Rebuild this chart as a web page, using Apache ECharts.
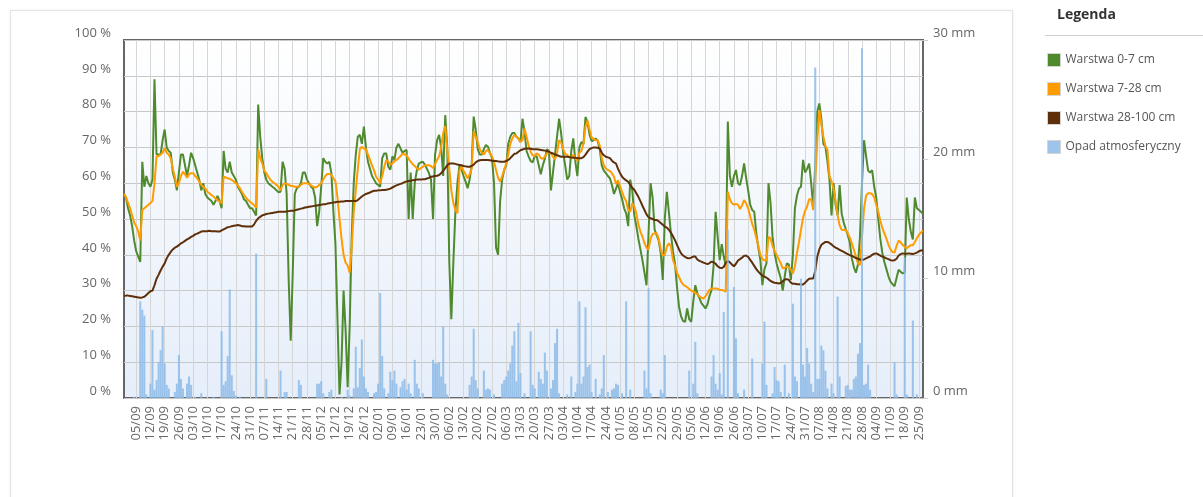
<!DOCTYPE html>
<html>
<head>
<meta charset="utf-8">
<title>Wilgotność gleby i opad</title>
<script src="https://cdn.jsdelivr.net/npm/echarts@6/dist/echarts.min.js"></script>
<style>
  html, body { margin: 0; padding: 0; background: #ffffff; }
  #chart { width: 1203px; height: 497px; }
</style>
</head>
<body>
<div id="chart"></div>
<script>
// Daily series, 30/08 .. 27/09 of the following year (394 days)
const startDate = Date.UTC(2022, 7, 30);
const dayCount = 394;

// Soil moisture, layer 0-7 cm [%]
const layer0_7 = [
  57, 56, 53, 51, 48, 44, 41, 39.5, 38, 66,
  59, 62, 60, 59, 61, 89, 68, 68, 68, 72,
  75, 70, 69, 68.5, 63, 61, 58, 63, 68, 68,
  65, 62, 65, 68.5, 67, 65, 63, 61, 58, 60,
  57, 56, 55.5, 55, 54, 55, 56.5, 55, 53, 69,
  64, 63, 66, 63, 62, 61, 59, 58, 57, 55.5,
  55, 54, 53, 53, 52, 51, 82, 73, 67, 63,
  61, 60, 59.5, 59, 58.6, 58, 57.5, 57.6, 66, 64,
  57, 33, 16, 35, 57, 58.6, 59, 60, 63, 63,
  61, 60, 59, 58.5, 56, 48, 52, 59, 67, 66,
  65.5, 66, 62.8, 52, 43, 22, 1, 10, 30, 19,
  3, 20, 45, 60, 68, 73, 73.5, 71, 75.8, 70,
  66, 64, 62, 61, 60, 59.5, 59, 67, 68.3, 68.3,
  64.6, 63.8, 67.5, 66.5, 70, 71, 69.7, 68.5, 69, 69.3,
  50, 63, 50, 60, 63.5, 65.5, 65.8, 66, 65.2, 64,
  62.8, 61, 50, 68, 72, 73.5, 70, 62, 79, 70,
  38, 22, 38, 52, 60, 65, 64, 62, 60.5, 58.6,
  61, 65, 78.6, 75, 69.5, 68, 68, 69.5, 70.7, 70.2,
  68.5, 67, 60, 42, 40, 55, 61, 63.7, 65, 71,
  73, 74, 74, 73, 72.5, 71.5, 78, 74.5, 69, 67.5,
  66.2, 65.8, 67.5, 67.5, 65, 62.5, 65, 66.8, 69.5, 69,
  58, 63, 68, 73, 78, 74, 68.5, 65, 61, 62,
  69, 72.5, 66, 62, 70, 71.5, 71, 78.5, 77, 73.5,
  71.8, 72, 72.5, 71.8, 69.5, 65, 63.5, 62.8, 62, 61.4,
  59.5, 57, 58.5, 60, 57.5, 55.5, 53, 51.6, 48, 61,
  58, 51, 48, 44.5, 41.5, 38.5, 35, 31.5, 46, 60,
  56, 47, 45.5, 44, 40.5, 33, 50, 57.6, 52, 46,
  41, 37.6, 31, 25.5, 22.8, 21.5, 21.3, 25, 22, 21.3,
  27, 31.5, 29.2, 28, 26.5, 25.8, 25, 26.2, 28.5, 30.2,
  37, 52, 45, 38.5, 43, 39.5, 37, 77.2, 62, 59,
  62, 63.7, 60, 59.5, 62, 65.5, 61.5, 58, 54, 52.5,
  52, 46, 42, 38.5, 31.5, 36, 37.6, 60, 54.5, 45,
  40.5, 37.6, 35.5, 33.5, 30, 34, 37.6, 37.3, 33, 40,
  53, 56.5, 58.5, 59, 66.5, 63, 64, 65.5, 60, 53.5,
  65, 80, 82.3, 78, 71, 70.2, 66, 61, 51, 60,
  54, 51, 59.5, 51.5, 49, 47.2, 45.5, 43.5, 39, 36.5,
  35, 37.3, 45, 60, 72, 67.6, 63.5, 63, 63.6, 59,
  56, 50, 44.5, 40.5, 38, 36, 34, 32.5, 31.8, 31.2,
  33.5, 35.8, 35.3, 34.8, 35, 56, 50, 46.5, 44.3, 56,
  53, 52.5, 52, 51.5
];

// Soil moisture, layer 7-28 cm [%]
const layer7_28 = [
  57, 56, 54.5, 53, 51, 49, 48, 46.5, 44, 52.5,
  53, 53.5, 54, 54.5, 55, 60, 67.5, 67.5, 68, 68.5,
  69.8, 68.5, 68, 67, 64, 61.8, 59, 60, 62, 63.2,
  62.5, 61.5, 62.5, 62.8, 62.8, 62, 61.4, 60.5, 59.5, 59,
  58.5, 57.6, 57.2, 56.7, 56.3, 55.8, 55.3, 54.8, 54.4, 61.8,
  61.6, 61.4, 61.2, 60.9, 60.5, 60, 59.3, 58.6, 57.6, 56.7,
  56, 55.3, 54.8, 54.4, 53.8, 53.2, 69.5, 67, 65.5, 63.5,
  62.8, 61.8, 61, 60.4, 60, 59.5, 59, 58, 59.5, 60,
  59.8, 59.5, 59.3, 59.2, 59, 59, 59, 59.5, 60, 60,
  60, 59.8, 59.4, 59, 58.8, 59, 59.5, 60, 61, 62,
  62.6, 62.6, 62.3, 61.4, 60.5, 56, 50, 44.5, 40, 37.8,
  37, 35, 42, 52, 58, 64, 69.5, 70.2, 69.7, 69.5,
  68, 66.5, 65, 63.5, 61.8, 61, 60, 62, 64.5, 66.5,
  66, 65.2, 65.5, 66.2, 66.5, 67, 67.5, 68.3, 68, 67.8,
  66.8, 66, 65.3, 64.8, 64.2, 63.8, 64.2, 64.6, 65, 65,
  65, 64.8, 64.2, 65.3, 66.5, 67.5, 70, 74, 76, 69.5,
  64, 58, 54.5, 52.5, 51.6, 63.5, 64.6, 63.5, 62.5, 61.4,
  62.5, 64, 74.5, 73, 71.5, 69.5, 68.5, 68, 69, 69.3,
  68.3, 67.5, 66, 63.7, 61.5, 60.4, 62, 63.7, 65.5, 68,
  71, 72.5, 73.5, 73, 72.5, 71.5, 72, 75.3, 73, 70.5,
  68.8, 67.8, 67.6, 68.3, 68, 67, 66.8, 67.4, 68.3, 68.6,
  68.3, 67.4, 66.6, 68.5, 72, 71.5, 69.5, 68.2, 67.9, 67.2,
  67.3, 67.9, 67, 66.2, 68.5, 69, 71, 75.8, 77.5, 75,
  72.8, 72.4, 72, 72, 70.5, 67, 65, 64.1, 63.7, 63.4,
  62.8, 61.8, 59.8, 60.8, 59.2, 57.5, 56, 55, 52.5, 52,
  54.4, 53.5, 51.5, 48.5, 46.5, 45.1, 43.3, 42, 41.5, 44.5,
  45.8, 46, 46, 44.5, 41.5, 39.8, 40, 42.2, 43.2, 42.3,
  38.6, 37, 35, 33.8, 32.5, 31.7, 31.3, 31, 30.4, 30,
  29.7, 29.4, 29, 28.4, 28, 27.8, 28.4, 29.3, 30.2, 30.5,
  30.6, 30.6, 30.5, 30.2, 30.2, 30, 29.7, 57.6, 55.5, 54.4,
  54, 54.2, 54, 52.8, 53.8, 55.3, 54.3, 53, 50.8, 48.6,
  47, 44.8, 42.5, 40, 38.8, 38.5, 38.5, 45, 44.6, 42.5,
  41, 40, 38.8, 37.7, 36.2, 36.4, 36.7, 36.6, 35.8, 34.8,
  36.8, 40.5, 43.5, 47, 50.3, 52.3, 53.5, 55.5, 55.5, 52.5,
  60, 72, 80.4, 76.5, 73, 70.3, 69.4, 62, 60.5, 58.5,
  55, 51, 48.2, 47, 46.9, 46.9, 46, 44.8, 43.2, 41.4,
  39.5, 37.6, 37.2, 45, 53, 56.5, 57.2, 57.2, 57, 56,
  54, 52, 49.5, 47.5, 46, 44.5, 42.8, 41.5, 40.8, 40.6,
  42.5, 44, 43.5, 42.8, 42.2, 41.8, 42.3, 42.7, 42.7, 43.6,
  44.6, 45.6, 46.2, 46.8
];

// Soil moisture, layer 28-100 cm [%]
const layer28_100 = [
  28.5, 28.6, 28.6, 28.5, 28.4, 28.3, 28.2, 28.1, 28, 28.1,
  28.3, 28.8, 29.3, 29.8, 30, 31.5, 33.3, 34.4, 35.6, 36.7,
  37.6, 39, 40, 40.8, 41.5, 42, 42.3, 42.7, 43.2, 43.5,
  43.9, 44.3, 44.6, 45, 45.3, 45.7, 45.9, 46.2, 46.5, 46.6,
  46.6, 46.6, 46.7, 46.6, 46.6, 46.6, 46.5, 46.5, 46.8, 47.1,
  47.4, 47.7, 47.8, 48, 48.1, 48.2, 48.3, 48.2, 48, 48,
  47.9, 47.9, 47.9, 47.9, 48.5, 49.5, 50.2, 50.6, 51, 51.2,
  51.4, 51.5, 51.6, 51.7, 51.8, 51.9, 52, 52, 52, 52,
  52.1, 52.2, 52.3, 52.3, 52.4, 52.6, 52.7, 52.9, 53, 53.2,
  53.3, 53.4, 53.5, 53.6, 53.7, 53.8, 53.9, 54, 54.1, 54.1,
  54.3, 54.4, 54.5, 54.6, 54.7, 54.8, 54.8, 54.9, 54.9, 55,
  55, 55, 55, 55, 55, 55.3, 55.8, 56.3, 56.7, 57,
  57.2, 57.4, 57.7, 57.9, 57.9, 58, 58, 58.1, 58.1, 58.2,
  58.3, 58.5, 58.8, 59.1, 59.4, 59.6, 59.8, 60, 60.3, 60.5,
  60.6, 60.7, 60.8, 60.9, 61, 61, 61, 61.1, 61.1, 61.3,
  61.5, 61.8, 61.9, 62, 62.1, 62.3, 62.8, 63.5, 64.2, 65,
  65.5, 65.5, 65.5, 65.4, 65.2, 65.1, 65, 64.8, 64.7, 64.6,
  64.6, 64.8, 65.2, 65.8, 66.2, 66.4, 66.5, 66.5, 66.5, 66.5,
  66.4, 66.3, 66.2, 66.2, 66.1, 66, 66, 66, 66.2, 66.5,
  67, 67.6, 68.2, 68.3, 68.8, 69.2, 69.4, 69.6, 69.7, 69.7,
  69.6, 69.5, 69.5, 69.5, 69.4, 69.3, 69.2, 69.1, 69, 68.8,
  68.5, 68.3, 68, 67.8, 67.6, 67.4, 67.4, 67.4, 67.4, 67.3,
  67.2, 67.1, 67.1, 67, 67, 67, 67.3, 68, 68.8, 69.5,
  69.8, 70, 70, 69.9, 69.7, 68.5, 67.8, 67.4, 67.2, 67,
  66.3, 65.8, 65.5, 64, 62.8, 61.8, 61.2, 60.8, 60.4, 59.5,
  58.7, 58.2, 57.2, 56.2, 55, 53.7, 52.5, 51.3, 50.5, 50.2,
  50, 49.7, 49.7, 49.4, 48.9, 48.4, 47.9, 47.6, 47, 46.2,
  45.2, 44.1, 42.8, 41.5, 40.4, 39.8, 39.4, 39.1, 39, 39.2,
  39.5, 39.5, 38.7, 38.3, 38.1, 37.8, 37.6, 37.4, 37.7, 38.1,
  37.9, 37.5, 36.8, 36.4, 36.3, 36.6, 37.8, 38.3, 37.9, 37.3,
  36.8, 37.5, 38.4, 38.8, 39.2, 39.7, 39.8, 39.4, 38.6, 37.8,
  36.9, 36, 35.3, 34.7, 34.2, 33.9, 33.6, 33.2, 32.7, 32.4,
  32.2, 32.1, 32, 32.1, 32.6, 33.1, 33.2, 33, 32.2, 31.9,
  31.9, 31.8, 31.8, 31.7, 31.7, 32.2, 32.8, 33.3, 33.4, 33.4,
  35.5, 39.5, 41.5, 42.8, 43.2, 43.6, 43.6, 43.3, 42.9, 42.4,
  42, 41.7, 41.4, 41.1, 40.8, 40.5, 40.2, 39.9, 39.7, 39.4,
  39.1, 38.9, 38.7, 38.6, 38.7, 39, 39.3, 39.5, 40, 40.3,
  40.4, 40.1, 39.8, 39.5, 39.3, 39, 38.8, 38.5, 38.4, 38.5,
  38.9, 39.8, 40.2, 40.4, 40.3, 40.3, 40.4, 40.3, 40.2, 40.4,
  40.6, 41, 41.2, 41.3
];

// Daily precipitation [mm]
const precipitation = [
  0, 0, 0, 0, 0, 0.1, 0, 0, 8.1, 7.4,
  6.9, 0.3, 0, 1.2, 5.7, 0.7, 1.5, 3, 4, 6,
  2.9, 1.1, 0.8, 0, 0, 0.5, 1.2, 3.6, 1.6, 0.8,
  0, 1.2, 1.8, 1.1, 0, 0.1, 0, 0, 0.4, 0,
  0, 0, 0, 0, 0.1, 0, 0, 0, 5.6, 1.1,
  1.4, 3.5, 9.1, 1.9, 0.6, 0.2, 0, 0.1, 0, 0,
  0, 0, 0, 0, 0, 12.1, 0, 0, 0, 0,
  1.6, 0, 0, 0, 0, 0, 0, 2.3, 0, 0.5,
  0.5, 0, 0, 0, 0, 0, 1.5, 1.1, 0, 0,
  0, 0, 0, 0, 0, 1.2, 1.2, 1.4, 0.4, 0,
  0, 0.5, 0.7, 0, 0, 0, 0, 0.1, 0, 0,
  0.7, 0.2, 0, 0.8, 4.3, 0.9, 2.5, 4.9, 1.8, 0.8,
  0.5, 0, 0, 0.4, 0.5, 1.2, 8.8, 3.5, 0.8, 0,
  0.4, 2.2, 1.5, 2.3, 1.2, 0, 0.9, 1.4, 1.6, 0.7,
  1.2, 0.4, 0, 3.2, 1.2, 0.8, 0, 0.4, 0, 0,
  0, 0, 3.2, 2.9, 2.9, 3, 1.8, 6, 1.2, 0.3,
  0, 0, 0, 0, 0, 0, 0, 0, 0, 0,
  1.1, 1.8, 5.8, 1.5, 0.8, 0, 0, 2.3, 0.7, 0.8,
  0.7, 0, 0.3, 0, 0, 0, 1.2, 1.5, 1.8, 2.3,
  2.9, 4.4, 5.6, 1.4, 6.3, 2.1, 0, 0.4, 0, 0,
  5.6, 1.1, 0.8, 0, 2.2, 1.6, 1.2, 3.8, 2.3, 0,
  0.8, 1.5, 4.6, 5.8, 0.4, 0, 0, 0, 0.3, 0,
  1.8, 0, 0.5, 1.2, 8.1, 1.2, 1.8, 7.6, 2.6, 2.8,
  0.5, 0, 1.6, 0, 0.3, 0.8, 3.6, 0, 0.5, 0,
  0.7, 0.8, 1.2, 1.1, 0, 0.4, 0, 8.1, 0, 0.7,
  0, 0, 0, 0, 0, 0, 2.3, 0.8, 9.2, 0.4,
  0, 0, 0, 0, 0.7, 0.4, 3.6, 0, 0, 0,
  0, 0, 0, 0, 0, 0, 0, 0, 2.3, 0,
  1.2, 4.7, 0.4, 0, 0, 0, 0, 0, 0, 1.8,
  3.6, 1.2, 0.7, 2.1, 0.3, 7.2, 0, 14.1, 0, 0,
  9.3, 5, 0.4, 0, 0, 0.7, 0, 0, 0, 3.3,
  0, 0, 0, 0, 2.9, 6.4, 1.1, 0, 0, 0.4,
  2.6, 1.5, 1.4, 0.5, 0, 2.8, 0, 0.4, 0, 7.9,
  1.8, 1.4, 0, 10, 2.8, 1.8, 4.2, 2.9, 1.2, 0.5,
  27.7, 1.6, 1.6, 4.4, 4, 2.3, 0.8, 0, 1.2, 0.4,
  0, 8.5, 1.8, 0, 0, 1, 1.1, 0.7, 0.7, 1.6,
  1.8, 3.7, 4.6, 29.3, 1.1, 1.2, 2.8, 0.7, 0, 0,
  0, 0, 0, 0, 0, 0, 0, 0, 0, 3,
  0.3, 0, 0, 0, 11.8, 0.3, 0, 0, 6.5, 0,
  0.3, 0, 0, 0
];

// Category labels dd/mm, one per day
const categories = [];
for (let d = 0; d < dayCount; d++) {
  const t = new Date(startDate + d * 86400000);
  const dd = String(t.getUTCDate()).padStart(2, '0');
  const mm = String(t.getUTCMonth() + 1).padStart(2, '0');
  categories.push(dd + '/' + mm);
}

const seriesNames = ['Warstwa 0-7 cm', 'Warstwa 7-28 cm', 'Warstwa 28-100 cm', 'Opad atmosferyczny'];
const seriesColors = ['#4f8a2f', '#ff9c00', '#5f2f0a', '#9fc5ea'];
const percentTicks = { min: 0, max: 100, interval: 10 };
const rainTicks = { min: 0, max: 30, interval: 10 };

// weekly labels and grid lines, first one on 05/09
const firstWeekIdx = 6;
const weekly = (idx) => idx >= firstWeekIdx && (idx - firstWeekIdx) % 7 === 0;

const FONT = '"Open Sans", "Noto Sans", sans-serif';

const chart = echarts.init(document.getElementById('chart'), null, { renderer: 'canvas' });

function lineSeries(i, data) {
  return {
    name: seriesNames[i],
    type: 'line',
    data: data,
    yAxisIndex: 0,
    showSymbol: false,
    symbol: 'none',
    smooth: false,
    color: seriesColors[i],
    itemStyle: { color: seriesColors[i] },
    lineStyle: { color: seriesColors[i], width: 2 },
    emphasis: { disabled: true },
    z: 2
  };
}

chart.setOption({
  animation: false,
  textStyle: { fontFamily: FONT },
  graphic: [
    {
      type: 'rect', z: -10, silent: true,
      shape: { x: 10.5, y: 10.5, width: 1002, height: 500 },
      style: { fill: '#ffffff', stroke: '#e3e3e3', lineWidth: 1,
               shadowColor: 'rgba(0,0,0,0.06)', shadowBlur: 4 }
    },
    {
      type: 'text', left: 1057, top: 8, silent: true,
      style: { text: 'Legenda', fill: '#333333', font: 'bold 14px ' + FONT }
    },
    {
      type: 'line', silent: true,
      shape: { x1: 1045, y1: 35.5, x2: 1203, y2: 35.5 },
      style: { stroke: '#d0d0d0', lineWidth: 1 }
    }
  ],
  legend: {
    orient: 'vertical',
    left: 1047,
    top: 53,
    padding: 0,
    icon: 'rect',
    itemWidth: 13,
    itemHeight: 13,
    itemGap: 15,
    selectedMode: false,
    data: seriesNames,
    itemStyle: { borderColor: '#d4d4d4', borderWidth: 1 },
    textStyle: { fontSize: 12, color: '#555555', fontFamily: FONT, lineHeight: 13, height: 13 }
  },
  grid: {
    left: 124, right: 280, top: 40, bottom: 99,
    show: true,
    borderColor: '#666666',
    borderWidth: 2,
    backgroundColor: {
      type: 'linear', x: 0, y: 0, x2: 0, y2: 1,
      colorStops: [{ offset: 0, color: '#ffffff' }, { offset: 1, color: '#e5eefa' }]
    }
  },
  xAxis: {
    type: 'category',
    data: categories,
    boundaryGap: false,
    axisLine: { show: false },
    axisTick: { show: false },
    axisLabel: {
      interval: (idx) => weekly(idx),
      rotate: 90,
      margin: 8,
      fontSize: 13,
      color: '#666666',
      fontFamily: FONT
    },
    splitLine: {
      show: true,
      interval: (idx) => weekly(idx),
      lineStyle: { color: '#d6d6d6', width: 1 }
    }
  },
  yAxis: [
    {
      type: 'value',
      min: percentTicks.min, max: percentTicks.max, interval: percentTicks.interval,
      position: 'left',
      axisLine: { show: false },
      axisTick: { show: false },
      axisLabel: {
        formatter: '{value} %', margin: 13, fontSize: 13, color: '#666666',
        verticalAlign: 'bottom', lineHeight: 14, fontFamily: FONT
      },
      splitLine: { show: true, lineStyle: { color: '#c8c8c8', width: 1 } }
    },
    {
      type: 'value',
      min: rainTicks.min, max: rainTicks.max, interval: rainTicks.interval,
      position: 'right',
      axisLine: { show: false },
      axisTick: { show: true, length: 5, lineStyle: { color: '#cccccc' } },
      axisLabel: {
        formatter: '{value} mm', margin: 10, fontSize: 13, color: '#666666',
        verticalAlign: 'bottom', lineHeight: 14, fontFamily: FONT
      },
      splitLine: { show: false }
    }
  ],
  series: [
    lineSeries(0, layer0_7),
    lineSeries(1, layer7_28),
    lineSeries(2, layer28_100),
    {
      name: seriesNames[3],
      type: 'bar',
      data: precipitation,
      yAxisIndex: 1,
      barWidth: 2,
      color: seriesColors[3],
      itemStyle: { color: 'rgba(140,186,232,0.85)' },
      emphasis: { disabled: true },
      z: 3
    }
  ]
});
</script>
</body>
</html>
